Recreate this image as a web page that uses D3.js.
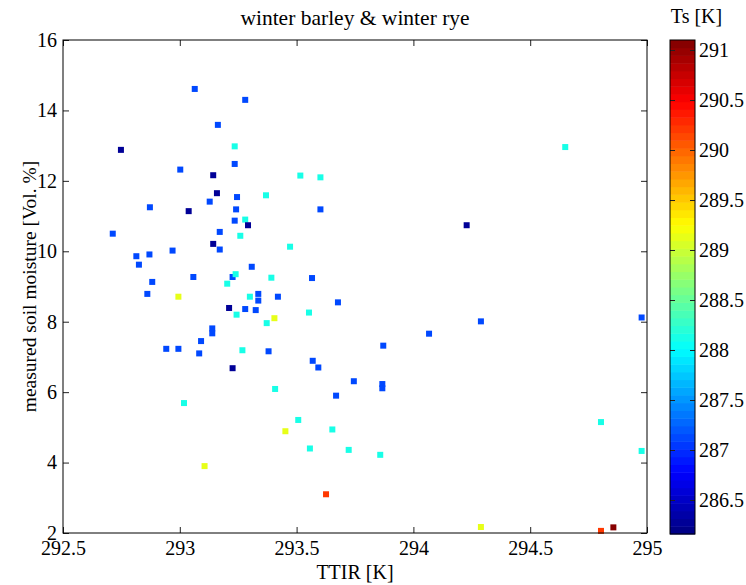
<!DOCTYPE html>
<html>
<head>
<meta charset="utf-8">
<script src="https://cdn.jsdelivr.net/npm/d3@7"></script>
<style>
body { margin: 0; background: #fff; }
text { font-family: 'Liberation Serif', 'Times New Roman', serif; fill: #000; }
</style>
</head>
<body>
<div id="chart"></div>
<script>
// TTIR [K], measured soil moisture [Vol. %], Ts [K] (colour)
let ttir = [
    293.064, 293.280, 293.163, 292.748, 293.235, 293.235, 293.002, 293.143, 293.516, 293.602,
    293.159, 293.245, 293.369, 293.128, 292.872, 293.241, 293.602, 293.038, 293.235, 293.280,
    293.292, 293.259, 293.171, 292.713, 293.472, 293.143, 293.171, 292.969, 292.814, 292.870,
    292.825, 293.308, 293.058, 293.226, 293.239, 292.882, 293.392, 293.566, 293.203, 292.861,
    292.994, 293.336, 293.300, 293.420, 293.336, 293.677, 293.211, 293.280, 293.325, 293.243,
    293.553, 293.405, 293.372, 293.139, 293.139, 293.091, 292.942, 292.994, 293.083, 293.268,
    293.380, 293.226, 293.569, 293.593, 293.745, 293.408, 293.669, 293.018, 293.507, 293.452,
    293.653, 293.557, 293.723, 293.106, 293.626, 294.650, 294.228, 294.289, 294.067, 293.871,
    293.867, 293.867, 294.977, 294.803, 294.977, 293.858, 294.289, 294.803, 294.856
]
let moisture = [
    14.61, 14.30, 13.59, 12.88, 12.98, 12.48, 12.32, 12.16, 12.15, 12.10,
    11.65, 11.54, 11.59, 11.41, 11.25, 11.19, 11.19, 11.14, 10.87, 10.90,
    10.74, 10.44, 10.55, 10.50, 10.13, 10.21, 10.05, 10.02, 9.86, 9.91,
    9.62, 9.56, 9.27, 9.27, 9.35, 9.13, 9.25, 9.24, 9.08, 8.79,
    8.71, 8.79, 8.71, 8.71, 8.60, 8.55, 8.39, 8.36, 8.33, 8.20,
    8.26, 8.10, 7.96, 7.81, 7.67, 7.45, 7.23, 7.23, 7.10, 7.19,
    7.16, 6.68, 6.89, 6.70, 6.31, 6.09, 5.90, 5.69, 5.21, 4.89,
    4.94, 4.40, 4.36, 3.90, 3.10, 12.96, 10.74, 8.01, 7.66, 7.32,
    6.23, 6.11, 8.12, 5.15, 4.33, 4.22, 2.17, 2.06, 2.16
]
let ts = [
    287.15, 287.15, 287.15, 286.30, 288.15, 287.15, 287.15, 286.30, 288.15, 288.15,
    286.30, 287.15, 288.15, 287.15, 287.15, 287.15, 287.15, 286.30, 287.15, 288.15,
    286.30, 288.15, 287.15, 287.15, 288.15, 286.30, 287.15, 287.15, 287.15, 287.15,
    287.15, 287.15, 287.15, 287.15, 288.15, 287.15, 288.15, 287.15, 288.15, 287.15,
    289.10, 287.15, 288.15, 287.15, 287.15, 287.15, 286.30, 287.15, 287.15, 288.15,
    288.15, 289.10, 288.15, 287.15, 287.15, 287.15, 287.15, 287.15, 287.15, 288.15,
    287.15, 286.30, 287.15, 287.15, 287.15, 288.15, 287.15, 288.15, 288.15, 289.10,
    288.15, 288.15, 288.15, 289.10, 290.20, 288.15, 286.30, 287.15, 287.15, 287.15,
    287.15, 287.15, 287.15, 288.15, 288.15, 288.15, 289.10, 290.25, 291.05
]

let xTicks = [292.5, 293, 293.5, 294, 294.5, 295]
let yTicks = [2, 4, 6, 8, 10, 12, 14, 16]
let cTicks = [286.5, 287, 287.5, 288, 288.5, 289, 289.5, 290, 290.5, 291]
let tsRange = [286.16, 291.10]

let svgWidth = 746
let svgHeight = 585
let plot = { 'left': 63, 'right': 647, 'top': 40, 'bottom': 533 }
let cbar = { 'left': 670, 'right': 695 }
let fontSize = '20px'

let svg = d3.select('#chart').append('svg')
    .attr('width', svgWidth)
    .attr('height', svgHeight)

let x = d3.scaleLinear()
    .domain([292.5, 295])
    .range([plot.left, plot.right])
let y = d3.scaleLinear()
    .domain([2, 16])
    .range([plot.bottom, plot.top])

// matlab jet, 64 levels
function jet(v) {
    let t = (v - tsRange[0]) / (tsRange[1] - tsRange[0])
    let idx = Math.max(0, Math.min(63, Math.floor(t * 64)))
    let q = (idx + 0.5) / 64
    let c = k => Math.round(255 * Math.max(0, Math.min(1, 1.5 - Math.abs(4 * q - k))))
    return `rgb(${c(3)},${c(2)},${c(1)})`
}

let data = ttir.map((d, i) => ({ 'ttir': d, 'sm': moisture[i], 'ts': ts[i] }))

// points
let sq = 6
svg.append('g')
    .selectAll('rect')
    .data(data)
    .enter()
    .append('rect')
    .attr('x', d => x(d.ttir) - sq / 2)
    .attr('y', d => y(d.sm) - sq / 2)
    .attr('width', sq)
    .attr('height', sq)
    .attr('fill', d => jet(d.ts))

// axes, ticks inside like matlab
svg.append('g')
    .attr('transform', `translate(0, ${plot.bottom})`)
    .call(d3.axisBottom(x).tickValues(xTicks).tickSizeInner(-6).tickSizeOuter(0).tickPadding(8).tickFormat(d => String(d)))
svg.append('g')
    .attr('transform', `translate(0, ${plot.top})`)
    .call(d3.axisTop(x).tickValues(xTicks).tickSizeInner(-6).tickSizeOuter(0).tickFormat(''))
svg.append('g')
    .attr('transform', `translate(${plot.left}, 0)`)
    .call(d3.axisLeft(y).tickValues(yTicks).tickSizeInner(-6).tickSizeOuter(0).tickPadding(6))
svg.append('g')
    .attr('transform', `translate(${plot.right}, 0)`)
    .call(d3.axisRight(y).tickValues(yTicks).tickSizeInner(-6).tickSizeOuter(0).tickFormat(''))

svg.append('rect')
    .attr('x', plot.left)
    .attr('y', plot.top)
    .attr('width', plot.right - plot.left)
    .attr('height', plot.bottom - plot.top)
    .attr('fill', 'none')
    .attr('stroke', '#000')
    .attr('stroke-width', 1)

// title and axis labels
svg.append('text')
    .attr('x', (plot.left + plot.right) / 2)
    .attr('y', 25)
    .attr('text-anchor', 'middle')
    .style('font-size', '21.5px')
    .text('winter barley & winter rye')

svg.append('text')
    .attr('x', (plot.left + plot.right) / 2)
    .attr('y', 579)
    .attr('text-anchor', 'middle')
    .style('font-size', fontSize)
    .text('TTIR [K]')

svg.append('g')
    .attr('transform', `translate(36, ${(plot.top + plot.bottom) / 2}) rotate(-90)`)
    .append('text')
    .attr('text-anchor', 'middle')
    .style('font-size', '19.5px')
    .text('measured soil moisture [Vol. %]')

// colorbar
let c = d3.scaleLinear()
    .domain(tsRange)
    .range([534, plot.top])
let bands = d3.range(64)
let step = (tsRange[1] - tsRange[0]) / 64
svg.append('g')
    .selectAll('rect')
    .data(bands)
    .enter()
    .append('rect')
    .attr('x', cbar.left)
    .attr('y', d => c(tsRange[0] + (d + 1) * step))
    .attr('width', cbar.right - cbar.left)
    .attr('height', d => c(tsRange[0] + d * step) - c(tsRange[0] + (d + 1) * step) + 0.5)
    .attr('fill', d => jet(tsRange[0] + (d + 0.5) * step))

svg.append('g')
    .attr('transform', `translate(${cbar.right}, 0)`)
    .call(d3.axisRight(c).tickValues(cTicks).tickSizeInner(-5).tickSizeOuter(0).tickPadding(4).tickFormat(d => String(d)))
svg.append('g')
    .attr('transform', `translate(${cbar.left}, 0)`)
    .call(d3.axisLeft(c).tickValues(cTicks).tickSizeInner(-5).tickSizeOuter(0).tickFormat(''))

svg.selectAll('.domain').remove()
svg.selectAll('.tick line').attr('stroke', '#222')
svg.selectAll('.tick text')
    .attr('font-family', "'Liberation Serif', serif")
    .style('font-size', fontSize)

svg.append('rect')
    .attr('x', cbar.left)
    .attr('y', plot.top)
    .attr('width', cbar.right - cbar.left)
    .attr('height', 534 - plot.top)
    .attr('fill', 'none')
    .attr('stroke', '#000')

svg.append('text')
    .attr('x', (cbar.left + cbar.right) / 2 + 14)
    .attr('y', 23)
    .attr('text-anchor', 'middle')
    .style('font-size', fontSize)
    .text('Ts [K]')
</script>
</body>
</html>
